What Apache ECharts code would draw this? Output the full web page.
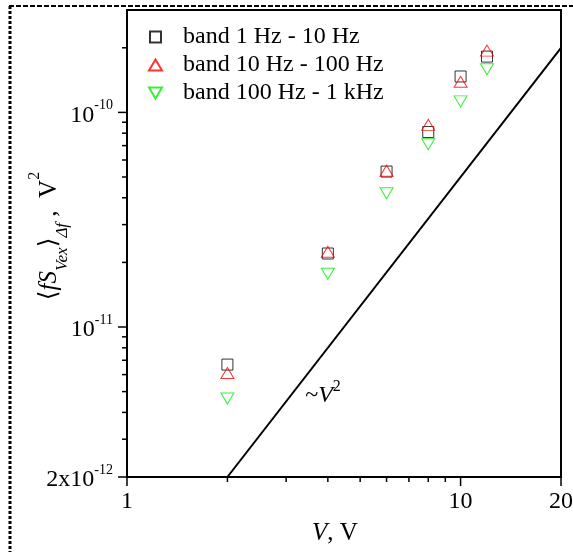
<!DOCTYPE html>
<html><head><meta charset="utf-8">
<script src="https://cdn.jsdelivr.net/npm/echarts@6/dist/echarts.min.js"></script>
<style>html,body{margin:0;padding:0;background:#fff}#c{width:573px;height:552px}</style>
</head><body><div id="c"></div>
<script>
// ---- data ----
const voltages = [2, 4, 6, 8, 10, 12];
const band1to10 = [6.68e-12, 2.2e-11, 5.3e-11, 8.1e-11, 1.47e-10, 1.82e-10];
const band10to100 = [6.1e-12, 2.24e-11, 5.35e-11, 8.75e-11, 1.39e-10, 1.94e-10];
const band100to1k = [4.64e-12, 1.77e-11, 4.2e-11, 7.1e-11, 1.125e-10, 1.59e-10];
const fitV = [2, 20];
const fitS = [2e-12, 2e-10];
const seriesNames = ['band 1 Hz - 10 Hz', 'band 10 Hz - 100 Hz', 'band 100 Hz - 1 kHz'];
const xMajorTicks = [1, 10, 20];
const xTickLabels = ['1', '10', '20'];
const xMinorTicks = [2, 3, 4, 5, 6, 7, 8, 9];
const yMajorTicks = [2e-12, 1e-11, 1e-10];
const yTickMantissa = ['2x10', '10', '10'];
const yTickExponent = ['-12', '-11', '-10'];
const yMinorTicks = [3e-12, 4e-12, 5e-12, 6e-12, 7e-12, 8e-12, 9e-12,
  2e-11, 3e-11, 4e-11, 5e-11, 6e-11, 7e-11, 8e-11, 9e-11, 2e-10];
const xMin = 1, xMax = 20, yMin = 2e-12, yMax = 3e-10;

const FONT = '"Liberation Serif", "DejaVu Serif", serif';

function tickSeries(values, axis, len) {
  return {
    type: 'custom', silent: true, clip: false, z: 5,
    data: values.map(v => axis === 'x' ? [v, yMin] : [xMin, v]),
    renderItem: (params, api) => {
      const p = api.coord([api.value(0), api.value(1)]);
      const shape = axis === 'x'
        ? { x1: p[0], y1: p[1], x2: p[0], y2: p[1] + len }
        : { x1: p[0], y1: p[1], x2: p[0] - len, y2: p[1] };
      return { type: 'line', shape, style: { stroke: '#000', lineWidth: 1.5 } };
    }
  };
}

const xLabelSeries = {
  type: 'custom', silent: true, clip: false, z: 5,
  data: xMajorTicks.map((v, i) => [v, yMin, i]),
  renderItem: (params, api) => {
    const p = api.coord([api.value(0), api.value(1)]);
    return {
      type: 'text', x: p[0], y: p[1] + 25,
      style: { text: xTickLabels[api.value(2)], font: '24px ' + FONT, fill: '#000', align: 'center', verticalAlign: 'middle' }
    };
  }
};

const yLabelSeries = {
  type: 'custom', silent: true, clip: false, z: 5,
  data: yMajorTicks.map((v, i) => [xMin, v, i]),
  renderItem: (params, api) => {
    const p = api.coord([api.value(0), api.value(1)]);
    const i = api.value(2);
    return {
      type: 'text', x: p[0] - 14, y: p[1] + 3,
      style: {
        text: '{m|' + yTickMantissa[i] + '}{e|' + yTickExponent[i] + '}',
        align: 'right', verticalAlign: 'middle',
        rich: {
          m: { fontSize: 24, fontFamily: FONT, color: '#000', lineHeight: 34 },
          e: { fontSize: 14, fontFamily: FONT, color: '#000', lineHeight: 12, verticalAlign: 'top' }
        }
      }
    };
  }
};

const hollow = (c) => ({ color: 'rgba(0,0,0,0)', borderColor: c, borderWidth: 1 });

const chart = echarts.init(document.getElementById('c'), null, { renderer: 'canvas' });
chart.setOption({
  animation: false,
  backgroundColor: '#fff',
  grid: { left: 127, right: 12, top: 10, bottom: 75, show: true, borderColor: '#000', borderWidth: 2, backgroundColor: 'transparent' },
  xAxis: {
    type: 'log', logBase: 10, min: xMin, max: xMax,
    axisLine: { show: false }, axisTick: { show: false }, axisLabel: { show: false }, splitLine: { show: false }
  },
  yAxis: {
    type: 'log', logBase: 10, min: yMin, max: yMax,
    axisLine: { show: false }, axisTick: { show: false }, axisLabel: { show: false }, splitLine: { show: false }
  },
  legend: {
    data: [
      { name: seriesNames[0], icon: 'path://M0,0 L1,0 L1,1 L0,1 Z' },
      { name: seriesNames[1], icon: 'path://M6.5,0 L13,11 L0,11 Z' },
      { name: seriesNames[2], icon: 'path://M0,0 L13,0 L6.5,11 Z' }
    ],
    orient: 'vertical', left: 143, top: 20, padding: 5,
    itemWidth: 13, itemHeight: 11, itemGap: 4,
    textStyle: { fontSize: 24, fontFamily: FONT, color: '#000', lineHeight: 21, padding: [0, 0, 0, 16] },
    selectedMode: false
  },
  graphic: [
    { type: 'line', shape: { x1: 10, y1: 6, x2: 10, y2: 552 }, style: { stroke: '#000', lineWidth: 3, lineDash: [3, 2] }, silent: true },
    { type: 'line', shape: { x1: 9, y1: 6, x2: 573, y2: 6 }, style: { stroke: '#000', lineWidth: 2, lineDash: [5, 2] }, silent: true },
    {
      type: 'text', x: 49, y: 236, rotation: Math.PI / 2, silent: true,
      style: {
        text: '{n|⟨}{i|fS}{sb|Vex}{n|⟩}{sb|Δf}{n| ,  V}{sp|2}',
        align: 'center', verticalAlign: 'middle',
        rich: {
          n: { fontSize: 25, fontFamily: FONT, color: '#000', lineHeight: 44 },
          i: { fontSize: 25, fontFamily: FONT, fontStyle: 'italic', color: '#000', lineHeight: 44 },
          sb: { fontSize: 17, fontFamily: FONT, fontStyle: 'italic', color: '#000', lineHeight: 14, verticalAlign: 'bottom' },
          sp: { fontSize: 16, fontFamily: FONT, color: '#000', lineHeight: 14, verticalAlign: 'top' }
        }
      }
    },
    {
      type: 'text', x: 335, y: 533, silent: true,
      style: {
        text: '{i|V}{n|, V}', align: 'center', verticalAlign: 'middle',
        rich: {
          n: { fontSize: 25, fontFamily: FONT, color: '#000' },
          i: { fontSize: 25, fontFamily: FONT, fontStyle: 'italic', color: '#000' }
        }
      }
    },
    {
      type: 'text', x: 323, y: 396, silent: true,
      style: {
        text: '{n|~}{i|V}{sp|2}', align: 'center', verticalAlign: 'middle',
        rich: {
          n: { fontSize: 24, fontFamily: FONT, color: '#000', lineHeight: 34 },
          i: { fontSize: 24, fontFamily: FONT, fontStyle: 'italic', color: '#000', lineHeight: 34 },
          sp: { fontSize: 16, fontFamily: FONT, color: '#000', lineHeight: 14, verticalAlign: 'top' }
        }
      }
    }
  ],
  series: [
    {
      name: seriesNames[0], type: 'scatter', symbol: 'rect', symbolSize: 11,
      itemStyle: hollow('#000'), emphasis: { disabled: true }, z: 3,
      data: voltages.map((v, i) => [v, band1to10[i]])
    },
    {
      name: seriesNames[1], type: 'scatter', symbol: 'triangle', symbolSize: [13, 11],
      itemStyle: hollow('#ff0000'), emphasis: { disabled: true }, z: 3,
      data: voltages.map((v, i) => [v, band10to100[i]])
    },
    {
      name: seriesNames[2], type: 'scatter', symbol: 'triangle', symbolSize: [13, 11], symbolRotate: 180,
      itemStyle: hollow('#00ee00'), emphasis: { disabled: true }, z: 3,
      data: voltages.map((v, i) => [v, band100to1k[i]])
    },
    {
      name: 'fit', type: 'line', showSymbol: false, symbol: 'none',
      lineStyle: { color: '#000', width: 2 }, silent: true, z: 2,
      data: fitV.map((v, i) => [v, fitS[i]])
    },
    tickSeries(xMajorTicks, 'x', 9),
    tickSeries(xMinorTicks, 'x', 5),
    tickSeries(yMajorTicks, 'y', 9),
    tickSeries(yMinorTicks, 'y', 5),
    xLabelSeries,
    yLabelSeries
  ]
});
</script></body></html>
